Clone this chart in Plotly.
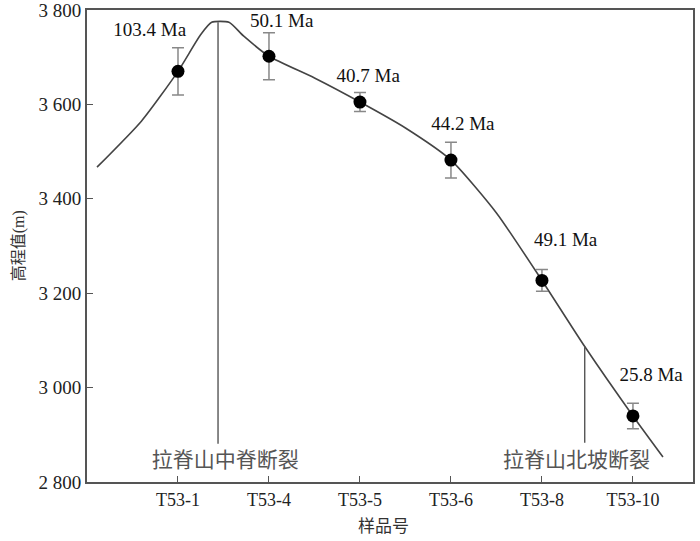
import plotly.graph_objects as go

# sample names and measured elevations
samples = ["T53-1", "T53-4", "T53-5", "T53-6", "T53-8", "T53-10"]
sample_pos = [1, 2, 3, 4, 5, 6]
elev = [3670, 3702, 3605, 3482, 3227, 2940]
elev_err = [50, 50, 20, 38, 23, 27]
ages = ["103.4 Ma", "50.1 Ma", "40.7 Ma", "44.2 Ma", "49.1 Ma", "25.8 Ma"]
age_x = [0.69, 2.14, 3.09, 4.13, 5.26, 6.20]
age_y = [3755, 3774, 3658, 3556, 3310, 3023]

# trend curve knots
curve_x = [0.11, 0.6, 1.0, 1.25, 1.37, 1.56, 1.72, 2.0, 2.5, 3.0, 3.5, 4.0, 4.5, 5.0, 5.47, 6.0, 6.33]
curve_y = [3467, 3565, 3670, 3748, 3774, 3774, 3745, 3702, 3656, 3605, 3550, 3482, 3370, 3227, 3087, 2940, 2853]

# faults
fault_names = ["拉脊山中脊断裂", "拉脊山北坡断裂"]
fault_x = [1.44, 5.47]
fault_top = [3774, 3087]
fault_bottom = [2881, 2883]
fault_label_x = [1.52, 5.38]
fault_label_y = [2842, 2842]

yticks = [2800, 3000, 3200, 3400, 3600, 3800]
yticktext = ["2 800", "3 000", "3 200", "3 400", "3 600", "3 800"]

serif = "Liberation Serif, Noto Sans CJK SC"

fig = go.Figure()

fig.add_trace(go.Scatter(
    x=curve_x, y=curve_y, mode="lines",
    line=dict(color="#444444", width=1.6, shape="spline", smoothing=0.6),
    hoverinfo="skip", showlegend=False))

for i in range(len(fault_x)):
    fig.add_trace(go.Scatter(
        x=[fault_x[i], fault_x[i]], y=[fault_top[i], fault_bottom[i]],
        mode="lines", line=dict(color="#555555", width=1.4),
        showlegend=False, hoverinfo="skip"))

fig.add_trace(go.Scatter(
    x=sample_pos, y=elev, mode="markers",
    marker=dict(color="black", size=13),
    error_y=dict(type="data", array=elev_err, color="#888888", thickness=1.5, width=6),
    showlegend=False))

fig.add_trace(go.Scatter(
    x=age_x, y=age_y, mode="text", text=ages,
    textfont=dict(family=serif, size=19, color="#111111"),
    showlegend=False, hoverinfo="skip"))

fig.add_trace(go.Scatter(
    x=fault_label_x, y=fault_label_y, mode="text", text=fault_names,
    textfont=dict(family=serif, size=21, color="#555555"),
    showlegend=False, hoverinfo="skip"))

fig.add_annotation(text="样品号", xref="paper", yref="paper", x=0.49, y=-0.095,
                   showarrow=False, font=dict(family=serif, size=17, color="#333333"),
                   yanchor="middle")
fig.add_annotation(text="高程值(m)", xref="paper", yref="paper", x=-0.13, y=0.5,
                   textangle=-90, showarrow=False,
                   font=dict(family=serif, size=16, color="#333333"))

fig.update_layout(
    width=700, height=541,
    margin=dict(l=87, r=7, t=10, b=59),
    paper_bgcolor="white", plot_bgcolor="white",
    font=dict(family=serif, size=18, color="#222222"),
    xaxis=dict(range=[0, 6.66], tickvals=sample_pos, ticktext=samples,
               ticks="inside", ticklen=6, tickcolor="#555555",
               showline=True, linecolor="#555555", linewidth=2, mirror=True,
               showgrid=False, zeroline=False, automargin=False),
    yaxis=dict(range=[2800, 3800], tickvals=yticks, ticktext=yticktext,
               ticks="inside", ticklen=6, tickcolor="#555555",
               showline=True, linecolor="#555555", linewidth=2, mirror=True,
               showgrid=False, zeroline=False, automargin=False,
               ticklabeloverflow="allow", tickfont=dict(size=19)),
)

# drop the default 8px body margin so the figure fills the window
fig.write_html("out.html", config={"displayModeBar": False},
               post_script="document.body.style.margin='0';")
